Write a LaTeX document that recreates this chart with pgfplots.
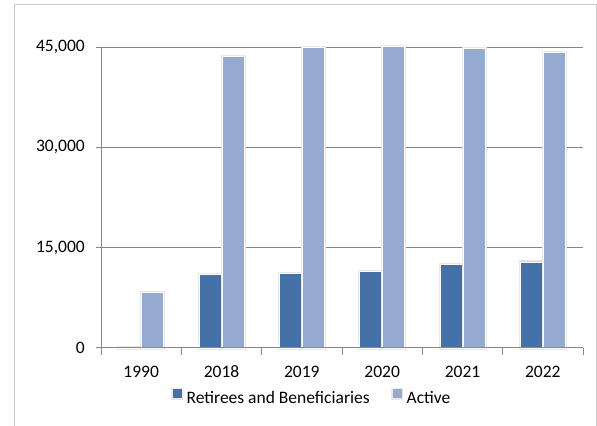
\documentclass[border=0pt]{standalone}
\usepackage{fontspec}
\setmainfont{Carlito}
\usepackage{pgfplots}
\pgfplotsset{compat=1.18}
\definecolor{retcol}{RGB}{68,114,168}
\definecolor{actcol}{RGB}{149,170,208}
\definecolor{gridc}{RGB}{134,134,134}
\definecolor{framec}{RGB}{200,200,200}
\begin{document}
\begin{tikzpicture}
\fontsize{17.5bp}{20bp}\selectfont
\useasboundingbox (0,0) rectangle (597bp,426bp);
\draw[framec, line width=1bp] (14bp,0) -- (14bp,421bp) -- (596bp,421bp) -- (596bp,0);
\begin{axis}[
  at={(101bp,78bp)}, anchor=south west,
  scale only axis, width=482bp, height=301bp,
  xmin=-0.5, xmax=5.5, ymin=0, ymax=45000,
  clip=false,
  ybar=1bp, bar width=22bp,
  axis lines*=left,
  axis line style={gridc, line width=1bp},
  xtick={0,1,2,3,4,5},
  xticklabels={1990,2018,2019,2020,2021,2022},
  minor xtick={-0.5,0.5,1.5,2.5,3.5,4.5,5.5},
  major x tick style={draw=none},
  minor tick length=7bp, major tick length=5bp,
  tick align=outside,
  tick style={gridc, line width=1bp},
  ytick={0,15000,30000,45000},
  scaled y ticks=false,
  ymajorgrids, grid style={gridc, line width=1bp},
  /pgf/number format/.cd, 1000 sep={,}, assume math mode=true, /pgfplots/.cd,
  ticklabel style={font=\fontsize{17.5bp}{20bp}\selectfont},
  yticklabel style={inner sep=0pt, anchor=east, xshift=-11bp},
  xticklabel style={inner sep=0pt, anchor=base, yshift=-24bp},
  barst/.style={draw=white, line width=0.8bp, preaction={draw=black!9, line width=3bp}},
  legend columns=2,
  legend image code/.code={\fill[#1, draw=none] (0bp,1bp) rectangle (9bp,10bp);},
  legend style={draw=none, fill=none, inner sep=0pt, at={(0.145,-0.163)}, anchor=west,
    font=\fontsize{17.5bp}{20bp}\selectfont,
    nodes={inner ysep=0pt, inner xsep=3.5bp},
    /tikz/every even column/.append style={column sep=18bp}},
]
\addplot[fill=retcol, barst] coordinates {(0,60) (1,10960) (2,11170) (3,11460) (4,12450) (5,12860)};
\addplot[fill=actcol, barst] coordinates {(0,8330) (1,43650) (2,44900) (3,45050) (4,44750) (5,44250)};
\legend{Retirees and Beneficiaries, Active}
\addplot[sharp plot, gridc, line width=1bp, forget plot] coordinates {(-0.5,0) (5.5,0)};
\end{axis}
\end{tikzpicture}
\end{document}
